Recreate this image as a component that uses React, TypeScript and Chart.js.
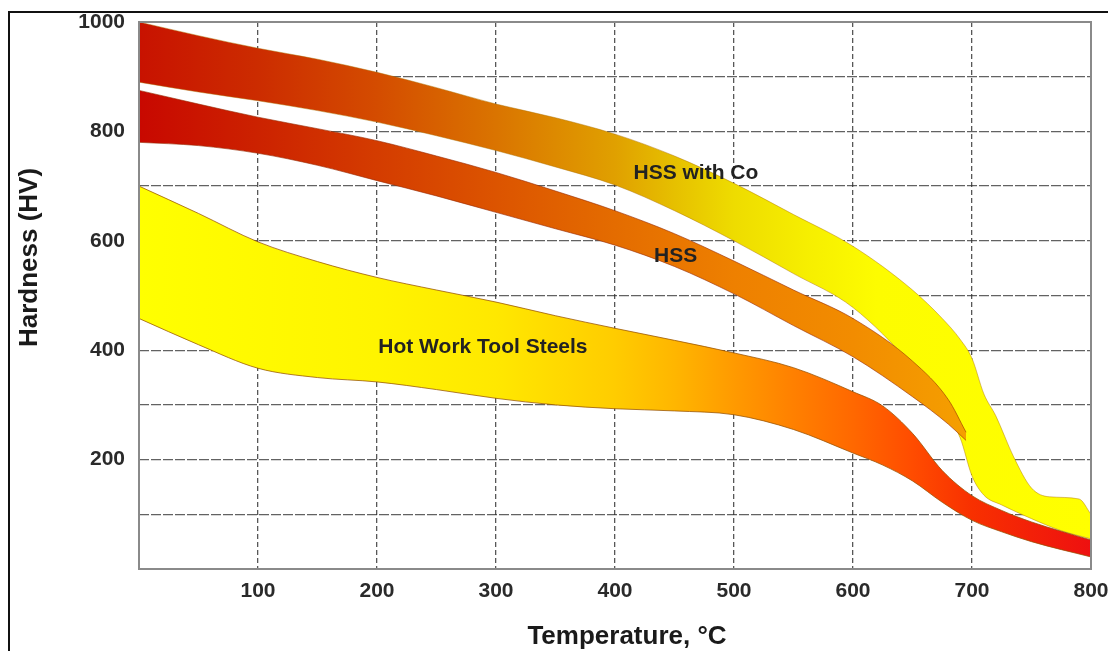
import React, { useEffect, useRef } from 'react';
import { Chart, registerables } from 'chart.js';

Chart.register(...registerables);

// Temperature (°C) sample points and hardness (HV) envelopes for each steel group
const hotWorkTemps = [0, 50, 100, 150, 200, 250, 300, 350, 400, 450, 500, 550, 600, 625, 650, 675, 700, 725, 750, 800];
const hotWorkUpper = [700, 650, 598, 562, 533, 510, 488, 463, 440, 418, 395, 368, 324, 298, 248, 180, 134, 107, 86, 53];
const hotWorkLower = [458, 410, 367, 350, 342, 328, 312, 300, 293, 289, 282, 255, 212, 190, 161, 122, 89, 68, 50, 22];

const hssTemps = [0, 50, 100, 150, 200, 250, 300, 350, 400, 450, 500, 550, 600, 650, 680, 695];
const hssUpper = [875, 850, 826, 805, 783, 755, 725, 691, 655, 613, 563, 510, 458, 380, 310, 250];
const hssLower = [780, 774, 760, 738, 710, 682, 652, 622, 592, 553, 503, 445, 388, 315, 265, 235];

const hssCoTemps = [0, 50, 100, 150, 200, 250, 300, 350, 400, 450, 500, 550, 600, 650, 675, 690, 700, 710, 720, 735, 750, 765, 790, 800];
const hssCoUpper = [1000, 975, 952, 932, 908, 880, 850, 825, 795, 755, 705, 648, 590, 510, 458, 420, 385, 320, 280, 205, 148, 132, 128, 100];
const hssCoLowerTemps = [0, 50, 100, 150, 200, 250, 300, 350, 400, 450, 500, 550, 600, 650, 675, 690, 700, 710, 725, 750, 775, 800];
const hssCoLower = [890, 872, 856, 838, 817, 792, 765, 735, 702, 655, 600, 540, 478, 370, 295, 240, 170, 135, 117, 92, 70, 55];

const xTickValues = [100, 200, 300, 400, 500, 600, 700, 800];
const yTickValues = [200, 400, 600, 800, 1000];

const bandLabels = [
  { text: 'HSS with Co', temp: 468, hv: 723 },
  { text: 'HSS', temp: 451, hv: 572 },
  { text: 'Hot Work Tool Steels', temp: 289, hv: 405 },
];

// colour ramps along the temperature axis
const hssCoRamp: [number, string][] = [
  [0, '#c81200'], [100, '#cc2c00'], [200, '#d44c00'], [300, '#da7400'],
  [400, '#e0a000'], [450, '#e6c000'], [500, '#eedc00'], [560, '#f6ee00'],
  [620, '#fdfc00'], [800, '#ffff00'],
];
const hssRamp: [number, string][] = [
  [0, '#c80800'], [100, '#cc2200'], [200, '#d43c00'], [300, '#dc5400'],
  [400, '#e46c00'], [500, '#ee8000'], [600, '#f28c00'], [700, '#f5a000'],
];
const hotWorkRamp: [number, string][] = [
  [0, '#ffff00'], [200, '#fff400'], [300, '#ffe800'], [400, '#ffcc00'],
  [450, '#ffb600'], [500, '#ff9a00'], [550, '#ff8000'], [600, '#ff6800'],
  [650, '#ff4c00'], [700, '#f83000'], [800, '#ee1010'],
];

const FONT = "'Liberation Sans', Arial, Helvetica, sans-serif";

function rampGradient(chart: any, ramp: [number, string][], fallback: string) {
  const xs = chart.scales?.x;
  if (!chart.chartArea || !xs) return fallback;
  const x0 = xs.getPixelForValue(0);
  const x1 = xs.getPixelForValue(800);
  const g = chart.ctx.createLinearGradient(x0, 0, x1, 0);
  ramp.forEach(([t, c]) => g.addColorStop(Math.min(1, Math.max(0, (xs.getPixelForValue(t) - x0) / (x1 - x0))), c));
  return g;
}

function pts(temps: number[], vals: number[]) {
  return temps.map((t, i) => ({ x: t, y: vals[i] }));
}

function band(name: string, temps: number[], upper: number[], lowerTemps: number[], lower: number[], ramp: [number, string][], edge: string) {
  const common = {
    type: 'line' as const,
    pointRadius: 0,
    borderWidth: 1,
    borderColor: edge,
    tension: 0.4,
    cubicInterpolationMode: 'monotone' as const,
  };
  return [
    { ...common, label: name + ' min', data: pts(lowerTemps, lower), fill: false },
    {
      ...common,
      label: name + ' max',
      data: pts(temps, upper),
      fill: '-1',
      backgroundColor: (ctx: any) => rampGradient(ctx.chart, ramp, ramp[0][1]),
    },
  ];
}

const framePlugin = {
  id: 'frameAndText',
  afterDraw(chart: any) {
    const { ctx, chartArea: a, scales } = chart;
    ctx.save();
    // plot frame
    ctx.strokeStyle = '#8a8a8a';
    ctx.lineWidth = 2;
    ctx.strokeRect(a.left, a.top, a.right - a.left, a.bottom - a.top);

    // band captions
    ctx.fillStyle = '#222';
    ctx.font = `bold 21px ${FONT}`;
    ctx.textAlign = 'center';
    ctx.textBaseline = 'middle';
    bandLabels.forEach((l) => {
      ctx.fillText(l.text, scales.x.getPixelForValue(l.temp), scales.y.getPixelForValue(l.hv));
    });

    // axis titles
    ctx.font = `bold 26px ${FONT}`;
    ctx.fillStyle = '#1a1a1a';
    ctx.fillText('Temperature, °C', (a.left + a.right) / 2 + 12, a.bottom + 68);
    ctx.translate(30, (a.top + a.bottom) / 2 - 38);
    ctx.rotate(-Math.PI / 2);
    ctx.fillText('Hardness (HV)', 0, 0);
    ctx.restore();
  },
};

export default function App() {
  const canvasRef = useRef<HTMLCanvasElement | null>(null);

  useEffect(() => {
    const canvas = canvasRef.current;
    if (!canvas) return;
    const chart = new Chart(canvas, {
      type: 'line',
      data: {
        datasets: [
          ...band('Hot Work Tool Steels', hotWorkTemps, hotWorkUpper, hotWorkTemps, hotWorkLower, hotWorkRamp, 'rgba(150,80,0,0.75)'),
          ...band('HSS', hssTemps, hssUpper, hssTemps, hssLower, hssRamp, 'rgba(150,40,0,0.6)'),
          ...band('HSS with Co', hssCoTemps, hssCoUpper, hssCoLowerTemps, hssCoLower, hssCoRamp, 'rgba(170,110,0,0.45)'),
        ] as any,
      },
      options: {
        animation: false,
        responsive: false,
        events: [],
        layout: { padding: { top: 22, right: 17, left: 0, bottom: 0 } },
        plugins: { legend: { display: false }, tooltip: { enabled: false } },
        scales: {
          x: {
            type: 'linear',
            min: 0,
            max: 800,
            z: 1,
            afterBuildTicks: (s: any) => {
              s.ticks = [0, ...xTickValues].map((v) => ({ value: v }));
            },
            afterFit: (s: any) => {
              s.height = 82;
              s.paddingLeft = 0;
              s.paddingRight = 0;
            },
            ticks: {
              autoSkip: false,
              maxRotation: 0,
              padding: 10,
              color: '#2a2a2a',
              font: { family: FONT, size: 21, weight: 'bold' },
              callback: (v: any) => (xTickValues.includes(v) ? String(v) : ''),
            },
            grid: { color: 'rgba(45,45,45,0.8)', lineWidth: 1.3, drawTicks: false },
            border: { display: false, dash: [5, 3] },
          },
          y: {
            type: 'linear',
            min: 0,
            max: 1000,
            z: 1,
            afterFit: (s: any) => {
              s.width = 139;
              s.paddingTop = 0;
              s.paddingBottom = 0;
            },
            ticks: {
              stepSize: 100,
              padding: 14,
              color: '#2a2a2a',
              font: { family: FONT, size: 21, weight: 'bold' },
              callback: (v: any) => (yTickValues.includes(v) ? String(v) : ''),
            },
            grid: { color: 'rgba(45,45,45,0.75)', lineWidth: 1.3, drawTicks: false },
            border: { display: false, dash: [10, 2] },
          },
        },
      } as any,
      plugins: [framePlugin],
    });
    return () => chart.destroy();
  }, []);

  return (
    <div style={{ position: 'fixed', left: 0, top: 0, width: 1108, height: 651, background: '#fff', overflow: 'hidden' }}>
      <div
        style={{
          position: 'absolute',
          left: 8,
          top: 11,
          width: 1200,
          height: 800,
          borderTop: '2px solid #111',
          borderLeft: '2px solid #111',
        }}
      />
      <canvas ref={canvasRef} width={1108} height={651} style={{ position: 'absolute', left: 0, top: 0, display: 'block' }} />
    </div>
  );
}
